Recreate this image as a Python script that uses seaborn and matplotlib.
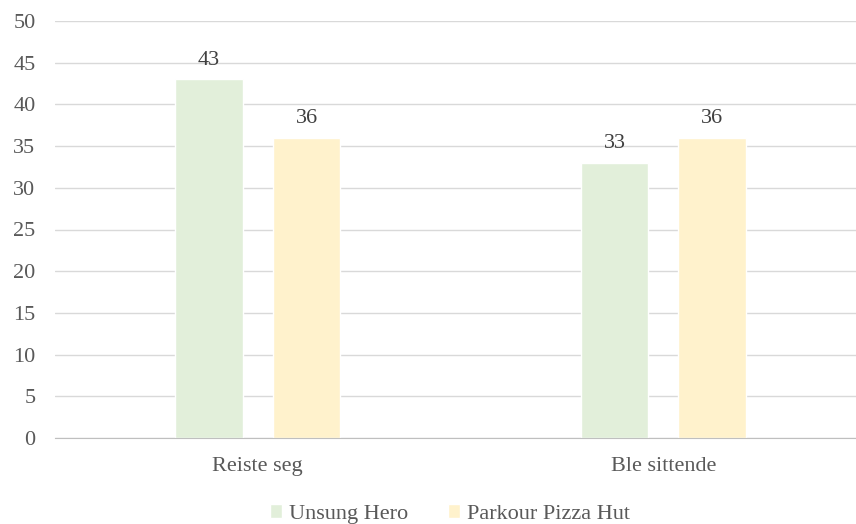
import pandas as pd
import matplotlib.pyplot as plt
import seaborn as sns

categories = ["Reiste seg", "Ble sittende"]
series = ["Unsung Hero", "Parkour Pizza Hut"]
unsung_hero = [43, 33]
parkour_pizza_hut = [36, 36]
colors = ["#E2EFDA", "#FFF2CC"]

df = pd.DataFrame({
    "kategori": categories * 2,
    "serie": [series[0]] * 2 + [series[1]] * 2,
    "verdi": unsung_hero + parkour_pizza_hut,
})

sns.set_style("white")
plt.rcParams['font.family'] = ['Liberation Serif', 'DejaVu Serif']

fig = plt.figure(figsize=(8.56, 5.24), dpi=100)
ax = fig.add_axes([55 / 856, 1 - 438 / 524, 811 / 856, 417 / 524])
sns.barplot(data=df, x="kategori", y="verdi", hue="serie", palette=colors,
            saturation=1, width=0.481, gap=0.31, ax=ax, legend=True)

for cont in ax.containers:
    ax.bar_label(cont, padding=7, fontsize=16, color="#404040")

ax.set_ylim(0, 50)
ax.set_xlim(-0.5, 1.5)
ax.set_yticks(range(0, 51, 5))
ax.yaxis.grid(True, color="#D9D9D9", linewidth=1)
ax.set_axisbelow(True)
for s in ["top", "right", "left"]:
    ax.spines[s].set_visible(False)
ax.spines["bottom"].set_color("#BFBFBF")
ax.tick_params(axis="both", length=0, labelsize=16, labelcolor="#595959")
ax.tick_params(axis="y", pad=14)
ax.tick_params(axis="x", pad=14)
ax.set_xlabel("")
ax.set_ylabel("")

handles, labels = ax.get_legend_handles_labels()
ax.legend(handles, labels, loc="center", bbox_to_anchor=(450 / 856, 10 / 524),
          bbox_transform=fig.transFigure,
          ncol=2, frameon=False, fontsize=16, labelcolor="#595959",
          handlelength=0.55, handleheight=0.55, handletextpad=0.3, columnspacing=1.8)

fig.savefig("out.png", dpi=100)
plt.close()
